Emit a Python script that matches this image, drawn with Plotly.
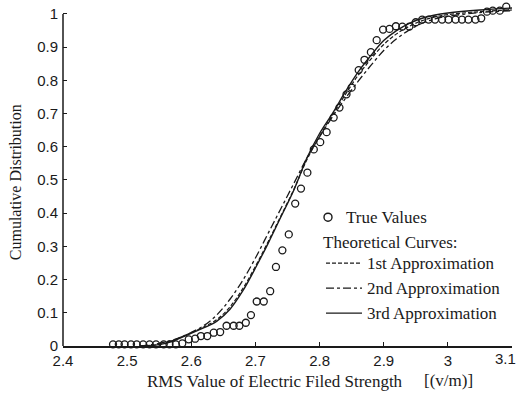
import plotly.graph_objects as go

# ---- measured data (True Values) ----
true_x = [2.478, 2.487, 2.496, 2.506, 2.515, 2.525, 2.535, 2.545, 2.557, 2.566,
          2.576, 2.586, 2.596, 2.606, 2.615, 2.625, 2.635, 2.645, 2.655, 2.666,
          2.675, 2.685, 2.693, 2.702, 2.713, 2.723, 2.732, 2.742, 2.752, 2.762,
          2.771, 2.781, 2.791, 2.801, 2.811, 2.822, 2.831, 2.842, 2.850, 2.861,
          2.870, 2.880, 2.889, 2.899, 2.909, 2.919, 2.929, 2.940, 2.950, 2.960,
          2.970, 2.980, 2.991, 3.001, 3.012, 3.022, 3.032, 3.043, 3.052, 3.061,
          3.070, 3.081, 3.091]
true_y = [0.005, 0.005, 0.005, 0.005, 0.005, 0.005, 0.005, 0.005, 0.005, 0.005,
          0.005, 0.008, 0.020, 0.022, 0.030, 0.030, 0.040, 0.042, 0.061, 0.061,
          0.061, 0.070, 0.093, 0.134, 0.134, 0.165, 0.238, 0.288, 0.336, 0.429,
          0.474, 0.522, 0.592, 0.614, 0.644, 0.688, 0.718, 0.758, 0.778, 0.831,
          0.862, 0.885, 0.921, 0.953, 0.955, 0.963, 0.962, 0.962, 0.975, 0.983,
          0.983, 0.983, 0.983, 0.983, 0.983, 0.983, 0.983, 0.983, 0.987, 1.007,
          1.010, 1.010, 1.022]

# ---- theoretical curves ----
curve_x = [2.52, 2.53, 2.56, 2.59, 2.62, 2.64, 2.66, 2.68, 2.70, 2.72, 2.74, 2.76,
           2.78, 2.80, 2.82, 2.84, 2.86, 2.88, 2.90, 2.92, 2.94, 2.96, 2.98,
           3.00, 3.05, 3.10]
approx1_y = [0.0, 0.001, 0.009, 0.032, 0.058, 0.080, 0.117, 0.172, 0.240, 0.315,
             0.393, 0.472, 0.560, 0.632, 0.695, 0.757, 0.815, 0.864, 0.908, 0.940,
             0.963, 0.980, 0.991, 0.998, 1.007, 1.012]
approx2_y = [0.0, 0.002, 0.012, 0.032, 0.062, 0.094, 0.140, 0.197, 0.265, 0.340,
             0.415, 0.490, 0.565, 0.630, 0.690, 0.745, 0.797, 0.845, 0.890, 0.925,
             0.952, 0.972, 0.985, 0.993, 1.004, 1.010]
approx3_y = [0.0, 0.0, 0.008, 0.030, 0.055, 0.075, 0.110, 0.165, 0.235, 0.310,
             0.390, 0.470, 0.565, 0.640, 0.700, 0.765, 0.825, 0.875, 0.920, 0.950,
             0.972, 0.987, 0.997, 1.003, 1.012, 1.018]

x_ticks = [2.4, 2.5, 2.6, 2.7, 2.8, 2.9, 3.0, 3.1]
x_tick_labels = ["2.4", "2.5", "2.6", "2.7", "2.8", "2.9", "3", "3.1"]
y_ticks = [0, 0.1, 0.2, 0.3, 0.4, 0.5, 0.6, 0.7, 0.8, 0.9, 1]
y_tick_labels = ["0", "0.1", "0.2", "0.3", "0.4", "0.5", "0.6", "0.7", "0.8", "0.9", "1"]

INK = "#1a1a1a"
SERIF = "Liberation Serif, Times New Roman, serif"
SANS = "Liberation Sans, Arial, sans-serif"

fig = go.Figure()
fig.add_trace(go.Scatter(x=curve_x, y=approx1_y, mode="lines", name="1st Approximation",
                         line=dict(color=INK, width=1.2, dash="4px,2px"), line_shape="spline"))
fig.add_trace(go.Scatter(x=curve_x, y=approx2_y, mode="lines", name="2nd Approximation",
                         line=dict(color=INK, width=1.3, dash="8px,3px,3px,3px"), line_shape="spline"))
fig.add_trace(go.Scatter(x=curve_x, y=approx3_y, mode="lines", name="3rd Approximation",
                         line=dict(color=INK, width=1.4), line_shape="spline"))
fig.add_trace(go.Scatter(x=true_x, y=true_y, mode="markers", name="True Values",
                         marker=dict(symbol="circle-open", size=7, color=INK,
                                     line=dict(width=1.3, color=INK)),
                         cliponaxis=False))

# ---- layout geometry (pixels in the 518x398 page) ----
L, R, T, B = 63, 6, 3.5, 52
Y_TOP = 1.03
PW = 518 - L - R
PH = 398 - T - B


def px_x(p):
    return (p - L) / PW


def px_y(p):
    return (398 - B - p) / PH


# last x tick label is drawn as an annotation so it stays inside the page
shown_tick_text = x_tick_labels[:-1] + [""]

shapes = []
annotations = []
# y axis line only up to 1
shapes.append(dict(type="line", xref="paper", yref="y", x0=0, x1=0, y0=0, y1=1,
                   line=dict(color=INK, width=1.5)))
annotations.append(dict(text=x_tick_labels[-1], x=px_x(517), y=px_y(359), xref="paper", yref="paper",
                        xanchor="right", yanchor="middle", showarrow=False, borderpad=0,
                        font=dict(family=SANS, size=15, color=INK)))
# manual legend
shapes.append(dict(type="circle", xref="paper", yref="paper", xsizemode="pixel", ysizemode="pixel",
                   xanchor=px_x(328), yanchor=px_y(217), x0=-4, x1=4, y0=-4, y1=4,
                   line=dict(color=INK, width=1.4)))
annotations.append(dict(text="True Values", x=px_x(344), y=px_y(217), xref="paper", yref="paper",
                        xanchor="left", yanchor="middle", showarrow=False,
                        font=dict(family=SERIF, size=17, color=INK)))
annotations.append(dict(text="Theoretical Curves:", x=px_x(321), y=px_y(242), xref="paper", yref="paper",
                        xanchor="left", yanchor="middle", showarrow=False,
                        font=dict(family=SERIF, size=17, color=INK)))
leg_items = [("1st Approximation", "4px,2px", 263),
             ("2nd Approximation", "8px,3px,3px,3px", 288),
             ("3rd Approximation", "solid", 313)]
for name, dash, py in leg_items:
    shapes.append(dict(type="line", xref="paper", yref="paper", x0=px_x(326), x1=px_x(362),
                       y0=px_y(py), y1=px_y(py), line=dict(color=INK, width=1.3, dash=dash)))
    annotations.append(dict(text=name, x=px_x(365), y=px_y(py), xref="paper", yref="paper",
                            xanchor="left", yanchor="middle", showarrow=False,
                            font=dict(family=SERIF, size=17, color=INK)))

# axis titles
annotations.append(dict(text="RMS Value of Electric Filed Strength", x=px_x(145), y=px_y(382),
                        xref="paper", yref="paper", xanchor="left", yanchor="middle", showarrow=False,
                        font=dict(family=SERIF, size=17, color=INK)))
annotations.append(dict(text="[(v/m)]", x=px_x(422), y=px_y(381),
                        xref="paper", yref="paper", xanchor="left", yanchor="middle", showarrow=False,
                        font=dict(family=SERIF, size=17, color=INK)))
annotations.append(dict(text="Cumulative Distribution", x=px_x(15), y=px_y(182), textangle=-90,
                        xref="paper", yref="paper", xanchor="center", yanchor="middle", showarrow=False,
                        font=dict(family=SERIF, size=16, color=INK)))

fig.update_layout(
    width=518, height=398,
    margin=dict(l=L, r=R, t=T, b=B, autoexpand=False),
    paper_bgcolor="white", plot_bgcolor="white",
    showlegend=False,
    shapes=shapes, annotations=annotations,
    xaxis=dict(range=[2.4, 3.1], tickvals=x_ticks, ticktext=shown_tick_text,
               showgrid=False, zeroline=False, showline=True, linecolor=INK, linewidth=1.5,
               ticks="inside", ticklen=4, tickwidth=1.3, tickcolor=INK,
               automargin=False,
               tickfont=dict(family=SANS, size=15, color=INK)),
    yaxis=dict(range=[0, Y_TOP], tickvals=y_ticks, ticktext=y_tick_labels,
               showgrid=False, zeroline=False, showline=False,
               ticks="inside", ticklen=4, tickwidth=1.3, tickcolor=INK,
               ticklabelstandoff=4, automargin=False,
               tickfont=dict(family=SANS, size=15, color=INK)),
)

fig.write_html("out.html", config={"displayModeBar": False},
               post_script="document.body.style.margin='0';document.body.style.padding='0';")
